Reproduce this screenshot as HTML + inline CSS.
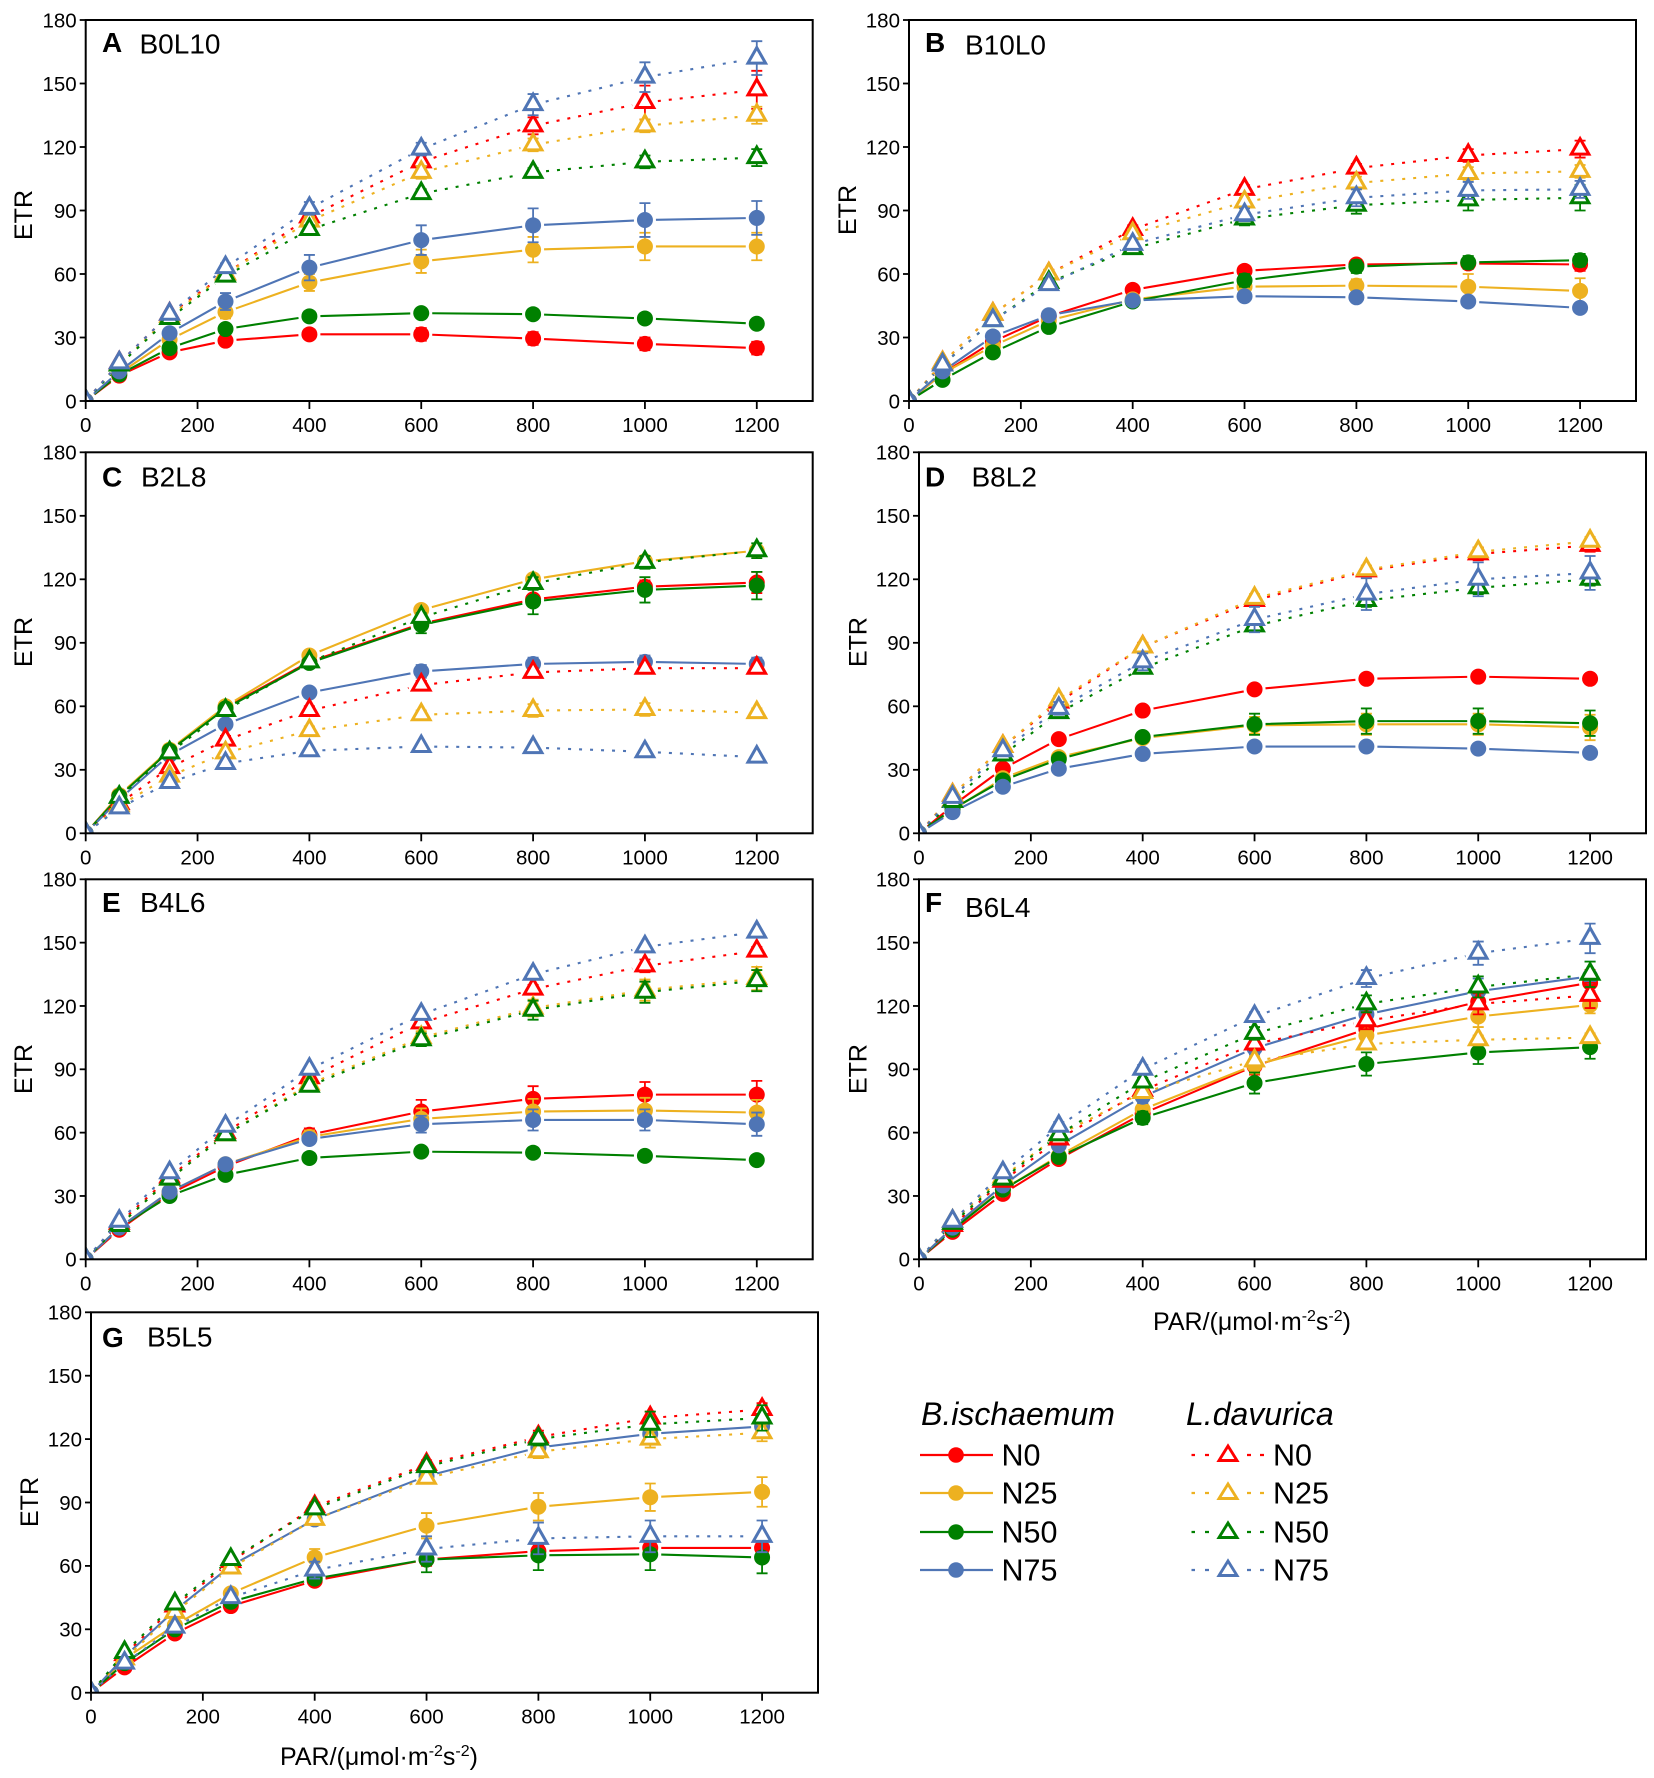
<!DOCTYPE html>
<html lang="en">
<head>
<meta charset="utf-8">
<title>ETR light response curves</title>
<style>
html,body{margin:0;padding:0;background:#fff;}
svg{display:block;}
text{font-family:"Liberation Sans",sans-serif;fill:#000;}
</style>
</head>
<body>
<svg id="chart" xmlns="http://www.w3.org/2000/svg" width="1654" height="1778" viewBox="0 0 1654 1778">
<rect x="0" y="0" width="1654" height="1778" fill="#fff"/>
<g id="panels"></g>
<g>
  <text x="921" y="1425" font-size="32" font-style="italic">B.ischaemum</text>
  <text x="1186" y="1425" font-size="32" font-style="italic">L.davurica</text>
  <g><line x1="920" x2="993" y1="1455" y2="1455" stroke="#FF0000" stroke-width="2.2"/><circle cx="956" cy="1455" r="7.8" fill="#FF0000"/><text x="1001.500" y="1465.500" font-size="30.500">N0</text></g>
  <g><line x1="920" x2="993" y1="1493" y2="1493" stroke="#EDB120" stroke-width="2.2"/><circle cx="956" cy="1493" r="7.8" fill="#EDB120"/><text x="1001.500" y="1503.500" font-size="30.500">N25</text></g>
  <g><line x1="920" x2="993" y1="1532" y2="1532" stroke="#008000" stroke-width="2.2"/><circle cx="956" cy="1532" r="7.8" fill="#008000"/><text x="1001.500" y="1542.500" font-size="30.500">N50</text></g>
  <g><line x1="920" x2="993" y1="1570" y2="1570" stroke="#4F75B5" stroke-width="2.2"/><circle cx="956" cy="1570" r="7.8" fill="#4F75B5"/><text x="1001.500" y="1580.500" font-size="30.500">N75</text></g>
  <g><path d="M1191.500 1455H1195M1205 1455H1209M1247 1455H1251M1260 1455H1264" stroke="#FF0000" stroke-width="2.2"/><path d="M1228 1446L1237 1460.500H1219Z" fill="#fff" stroke="#FF0000" stroke-width="2.9"/><text x="1273" y="1465.500" font-size="30.500">N0</text></g>
  <g><path d="M1191.500 1493H1195M1205 1493H1209M1247 1493H1251M1260 1493H1264" stroke="#EDB120" stroke-width="2.2"/><path d="M1228 1484L1237 1498.500H1219Z" fill="#fff" stroke="#EDB120" stroke-width="2.9"/><text x="1273" y="1503.500" font-size="30.500">N25</text></g>
  <g><path d="M1191.500 1532H1195M1205 1532H1209M1247 1532H1251M1260 1532H1264" stroke="#008000" stroke-width="2.2"/><path d="M1228 1523L1237 1537.500H1219Z" fill="#fff" stroke="#008000" stroke-width="2.9"/><text x="1273" y="1542.500" font-size="30.500">N50</text></g>
  <g><path d="M1191.500 1570H1195M1205 1570H1209M1247 1570H1251M1260 1570H1264" stroke="#4F75B5" stroke-width="2.2"/><path d="M1228 1561L1237 1575.500H1219Z" fill="#fff" stroke="#4F75B5" stroke-width="2.9"/><text x="1273" y="1580.500" font-size="30.500">N75</text></g>
</g>
</svg>
<script>
// x categories and axis ticks
const parLevels = [0, 60, 150, 250, 400, 600, 800, 1000, 1200];
const xTicks = [0, 200, 400, 600, 800, 1000, 1200];
const yTicks = [0, 30, 60, 90, 120, 150, 180];
const xMax = 1300;
const yMax = 180;
const treatments = ['N0', 'N25', 'N50', 'N75'];

// Rows: N0, N25, N50, N75. "solid" = B.ischaemum, "dotted" = L.davurica
const solidA = [
  [0,12,23,28.5,31.5,31.5,29.5,27,25],
  [0,13,29,42,56,66,71.5,73,73],
  [0,12.5,25,34,40,41.5,41,39,36.5],
  [0,14,32,47,63,76,83,85.5,86.5]];
const dottedA = [
  [0,18,41,60,87,113,130,141,147],
  [0,17,40,60,85,108,121,130,135],
  [0,17,39,59,81,98,108,113,115],
  [0,18,41,63,91,119,140,153,162]];
const solidErrA = [
  [0,1,1.5,1.5,2,3,3,3,3],
  [0,1,2,3,4,5.5,6,6.5,6.5],
  [0,1,1,2,2,2,2,2,2],
  [0,1,2,4,6,7,8,8,8]];
const dottedErrA = [
  [0,1,1,2,2,3,4,8,9],
  [0,1,1,2,2,3,3,3,4],
  [0,1,1,2,2,2,2,3,4],
  [0,1,1,2,3,3,5,7,8]];

const solidB = [
  [0,13,28,40,52.5,61.5,64.5,65,64.5],
  [0,13,26,38,48,54,54.5,54,52],
  [0,10,23,35,47,57,63.5,65.5,66.5],
  [0,14,30.5,40.5,47.5,49.5,49,47,44]];
const dottedB = [
  [0,18,41,60,81,100,110,116,119],
  [0,18,41,60,79,94,103,107.5,108.5],
  [0,17,38,56,72,86,92.5,95,96],
  [0,17,38,55,74,88,96,99.5,100]];
const solidErrB = [
  [0,1,1,1,2,2,2,2,3],
  [0,1,1,1,2,2,3,6,6],
  [0,1,1,2,2,3,3,3,3],
  [0,1,1,1,2,2,2,2,2]];
const dottedErrB = [
  [0,1,1,2,2,2,2,3,4],
  [0,1,1,2,2,2,3,3,3],
  [0,1,1,2,2,3,4,5,6],
  [0,1,1,2,2,3,4,4,4]];

const solidC = [
  [0,18,39,59.5,81,99,110.5,116.5,118.5],
  [0,18,39.5,60,84,105.5,120,128.5,133.5],
  [0,17.5,39,59,80.5,98.5,109.5,115,117],
  [0,16,37,51.5,66.5,76.5,80,81,80]];
const dottedC = [
  [0,14,31,44,58,70,76,78,78],
  [0,13,27,38,48.5,56,58,58.5,57],
  [0,17,38,58,81,102,118,128,133.5],
  [0,12,24,33,39,41,40.5,38.5,36]];
const solidErrC = [
  [0,1,1,1,2,2,2,3,5],
  [0,1,1,1,2,2,2,2,2],
  [0,1,1,1,2,4,6,6,6.5],
  [0,1,1,1,2,3,3,3,3]];
const dottedErrC = [
  [0,1,1,2,2,2,2,2,2],
  [0,1,1,1,2,2,3,3,2],
  [0,1,1,2,2,2,3,3,3.5],
  [0,1,1,1,1,1,1,1,1]];

const solidD = [
  [0,13,30.5,44.5,58,68,73,74,73],
  [0,11,26,36,45,51,51.5,51.5,50],
  [0,11.5,25,35,45.5,51.5,53,53,52],
  [0,10,22,30.5,37.5,41,41,40,38]];
const dottedD = [
  [0,18,41,62,88,110,124,132,136],
  [0,18,41,63,88,111,124.5,133,138],
  [0,15,37,57,78,98,110,116,120],
  [0,17,39,59,81,101,113,120,123]];
const solidErrD = [
  [0,1,1,1,1,1,1,1,1],
  [0,1,1,1,2,4,5,5,6],
  [0,1,1,1,2,5,6,6,6],
  [0,1,1,1,1,1,1,1,1]];
const dottedErrD = [
  [0,1,1,2,2,2,2,3,3],
  [0,1,1,2,2,2,2,2,2],
  [0,1,1,2,2,2,3,3,3],
  [0,1,1,3,4,6,7.5,8,8]];

const solidE = [
  [0,14,31,44,59,70,76,78,78],
  [0,15,32,45,58,66.5,70,70.5,69.5],
  [0,15,30,40,48,51,50.5,49,47],
  [0,15,32,45,57,64,66,66,64]];
const dottedE = [
  [0,17,39,60,86,112,128,139,146],
  [0,16,38,59,83,105,119,127.5,133],
  [0,16,38,59,82,104,118,126.5,132],
  [0,18,41,63,90,116,135,148,155]];
const solidErrE = [
  [0,1,1,1,3,5.5,6,6,6.5],
  [0,1,1,1,3,5,6,6,6],
  [0,1,1,1,1,1,1,1,1],
  [0,1,1,1,2,4,5,5,5.5]];
const dottedErrE = [
  [0,1,1,1,1,2,2,3,2],
  [0,1,1,1,2,3,4,5,5.5],
  [0,1,1,1,2,3,4.5,5,5],
  [0,1,1,1,1,1,1,1,1]];

const solidF = [
  [0,13,31,47.5,69,91.5,109,122,131],
  [0,15,33,49,71,92,106,115,120.5],
  [0,14,33,48.5,67,83.5,92.5,98,100.5],
  [0,15,35,54,77,100,116,127,134]];
const dottedF = [
  [0,16,37,57,80,102,113,121,125],
  [0,18,39,59,79,94,102,104,105],
  [0,17,38,59,84,107,121,129,135],
  [0,18,41,63,90,115,133,145,152]];
const solidErrF = [
  [0,1,1,2,3,4,5,6,6],
  [0,1,1,1,3,4,5,5,4],
  [0,1,1,1,3,5,5.5,5.5,5.5],
  [0,1,1,1,3,3,5,6,7]];
const dottedErrF = [
  [0,1,1,2,3,3,4,5,6],
  [0,1,1,2,2,2,2,2,2],
  [0,1,1,2,2,3,4,5,6],
  [0,1,1,2,2,2,4,5.5,7]];

const solidG = [
  [0,12,28,41,53,63,67,68.5,68.5],
  [0,16,32,47,64,79,88,92.5,95],
  [0,14,30,43,54,63,65,65.5,64],
  [0,17,39,60,82,102.5,116,122.5,126]];
const dottedG = [
  [0,18,41,62,88,108,121,130,134],
  [0,16,38,59,82,101.5,114,120,123],
  [0,19,42,63,87,107,120,127,130],
  [0,14,31,45,58,68,73,74,74]];
const solidErrG = [
  [0,1,1,1,2,3,3,3,3],
  [0,1,1,2,4,6,6.5,6.5,7],
  [0,1,1,1,2,6,7,7.5,7.5],
  [0,1,1,1,1,2,2,3,3]];
const dottedErrG = [
  [0,1,1,1,2,2,3,3,3],
  [0,1,1,1,2,2,3,4,4],
  [0,1,1,1,2,2,3,6,6],
  [0,1,1,2,4,6,7.5,7.5,7.5]];

const colors = ['#FF0000', '#EDB120', '#008000', '#4F75B5'];
const PLOT_W = 727;
const NS = 'http://www.w3.org/2000/svg';

function mk(tag, attrs, parent) {
  const e = document.createElementNS(NS, tag);
  for (const k in attrs) e.setAttribute(k, attrs[k]);
  if (parent) parent.appendChild(e);
  return e;
}

function shortenedPath(pts, gap) {
  let d = '';
  for (let i = 0; i < pts.length - 1; i++) {
    const a = pts[i], b = pts[i + 1];
    const dx = b[0] - a[0], dy = b[1] - a[1];
    const len = Math.hypot(dx, dy);
    if (len <= gap * 2) continue;
    const ux = dx / len, uy = dy / len;
    d += 'M' + (a[0] + ux * gap).toFixed(2) + ' ' + (a[1] + uy * gap).toFixed(2) +
         'L' + (b[0] - ux * gap).toFixed(2) + ' ' + (b[1] - uy * gap).toFixed(2);
  }
  return d;
}

function drawSeries(root, clipId, kind, idx, values, errs, sx, sy, id) {
  const color = colors[idx];
  const g = mk('g', { 'clip-path': 'url(#' + clipId + ')' }, root);
  
  
  const pts = parLevels.map((p, i) => [sx(p), sy(values[i])]);
  const line = mk('path', {
    d: shortenedPath(pts, kind === 'solid' ? 11 : 13),
    fill: 'none',
    stroke: color,
    'stroke-width': 2.1,
    'stroke-dasharray': kind === 'solid' ? 'none' : '3 8'
  }, g);
  
  
  pts.forEach((pt, i) => {
    const e = errs[i];
    if (e > 0) {
      const hi = sy(values[i] + e), lo = sy(values[i] - e);
      const bar = mk('path', {
        d: 'M' + pt[0] + ' ' + hi + 'V' + lo + 'M' + (pt[0] - 5.5) + ' ' + hi + 'h11M' + (pt[0] - 5.5) + ' ' + lo + 'h11',
        fill: 'none',
        stroke: color,
        'stroke-width': 1.8
      }, g);
      
      
    }
    let m;
    if (kind === 'solid') {
      m = mk('circle', { cx: pt[0], cy: pt[1], r: 8, fill: color }, g);
    } else {
      m = mk('path', {
        d: 'M' + pt[0] + ' ' + (pt[1] - 10.5) + 'L' + (pt[0] + 8.8) + ' ' + (pt[1] + 5) + 'H' + (pt[0] - 8.8) + 'Z',
        fill: '#fff',
        stroke: color,
        'stroke-width': 3
      }, g);
    }
    
    
  });
}

function drawPanel(cfg) {
  const root = document.getElementById('panels');
  const id = 'panel-' + cfg.letter.toLowerCase();
  const g = mk('g', {}, root);
  
  
  const sx = v => cfg.left + v * PLOT_W / xMax;
  const sy = v => cfg.bottom - v * (cfg.bottom - cfg.top) / yMax;

  const clipId = 'clip-' + cfg.letter;
  const cp = mk('clipPath', { id: clipId }, g);
  mk('rect', { x: cfg.left, y: cfg.top, width: PLOT_W, height: cfg.bottom - cfg.top }, cp);

  for (let i = 0; i < 4; i++) drawSeries(g, clipId, 'solid', i, cfg.solid[i], cfg.solidErr[i], sx, sy, id);
  for (let i = 0; i < 4; i++) drawSeries(g, clipId, 'dotted', i, cfg.dotted[i], cfg.dottedErr[i], sx, sy, id);

  const frame = mk('rect', { x: cfg.left, y: cfg.top, width: PLOT_W, height: cfg.bottom - cfg.top, fill: 'none', stroke: '#000', 'stroke-width': 2 }, g);
  
  

  xTicks.forEach(t => {
    const tick = mk('line', { x1: sx(t), x2: sx(t), y1: cfg.bottom, y2: cfg.bottom + 8, stroke: '#000', 'stroke-width': 1.8 }, g);
    
    
    const lab = mk('text', { x: sx(t), y: cfg.bottom + 31, 'font-size': 20.5, 'text-anchor': 'middle' }, g);
    lab.textContent = String(t);
    
    
  });
  yTicks.forEach(t => {
    const tick = mk('line', { x1: cfg.left - 6, x2: cfg.left, y1: sy(t), y2: sy(t), stroke: '#000', 'stroke-width': 1.8 }, g);
    
    
    const lab = mk('text', { x: cfg.left - 9, y: sy(t) + 7.3, 'font-size': 20.5, 'text-anchor': 'end' }, g);
    lab.textContent = String(t);
    
    
  });

  const yTitle = mk('text', {
    x: cfg.yTitleX, y: cfg.yTitleY, 'font-size': 25, 'text-anchor': 'middle',
    transform: 'rotate(-90 ' + cfg.yTitleX + ' ' + cfg.yTitleY + ')'
  }, g);
  yTitle.textContent = 'ETR';
  
  

  const letter = mk('text', { x: cfg.letterX, y: cfg.letterY, 'font-size': 28, 'font-weight': 'bold' }, g);
  letter.textContent = cfg.letter;
  
  

  const title = mk('text', { x: cfg.titleX, y: cfg.titleY, 'font-size': 28 }, g);
  title.textContent = cfg.title;
  
  

  if (cfg.xTitleX) {
    const xt = mk('text', { x: cfg.xTitleX, y: cfg.xTitleY, 'font-size': 25, 'text-anchor': 'middle' }, g);
    
    
    const parts = [['PAR/(\u03BCmol\u00B7m', 0, 25], ['-2', -9, 16], ['s', 9, 25], ['-2', -9, 16], [')', 9, 25]];
    parts.forEach(p => {
      const s = mk('tspan', { dy: p[1], 'font-size': p[2] }, xt);
      s.textContent = p[0];
    });
  }
}

drawPanel({ letter: 'A', title: 'B0L10', left: 85.7, top: 20, bottom: 401, solid: solidA, dotted: dottedA, solidErr: solidErrA, dottedErr: dottedErrA, yTitleX: 32, yTitleY: 215, letterX: 102, letterY: 52, titleX: 139.5, titleY: 53.5 });
drawPanel({ letter: 'B', title: 'B10L0', left: 909, top: 20, bottom: 401, solid: solidB, dotted: dottedB, solidErr: solidErrB, dottedErr: dottedErrB, yTitleX: 856, yTitleY: 210, letterX: 925, letterY: 52, titleX: 965, titleY: 54.5 });
drawPanel({ letter: 'C', title: 'B2L8', left: 85.7, top: 452.3, bottom: 833.3, solid: solidC, dotted: dottedC, solidErr: solidErrC, dottedErr: dottedErrC, yTitleX: 32, yTitleY: 642, letterX: 102, letterY: 486.5, titleX: 141, titleY: 486.5 });
drawPanel({ letter: 'D', title: 'B8L2', left: 919, top: 452.3, bottom: 833.3, solid: solidD, dotted: dottedD, solidErr: solidErrD, dottedErr: dottedErrD, yTitleX: 866.7, yTitleY: 642, letterX: 925, letterY: 486.5, titleX: 971.5, titleY: 486.5 });
drawPanel({ letter: 'E', title: 'B4L6', left: 85.7, top: 879.3, bottom: 1259.3, solid: solidE, dotted: dottedE, solidErr: solidErrE, dottedErr: dottedErrE, yTitleX: 32, yTitleY: 1069, letterX: 102, letterY: 912, titleX: 140, titleY: 912 });
drawPanel({ letter: 'F', title: 'B6L4', left: 919, top: 879.3, bottom: 1259.3, solid: solidF, dotted: dottedF, solidErr: solidErrF, dottedErr: dottedErrF, yTitleX: 866.7, yTitleY: 1069, letterX: 925, letterY: 912, titleX: 965, titleY: 917, xTitleX: 1252, xTitleY: 1330 });
drawPanel({ letter: 'G', title: 'B5L5', left: 91, top: 1312.3, bottom: 1692.7, solid: solidG, dotted: dottedG, solidErr: solidErrG, dottedErr: dottedErrG, yTitleX: 38, yTitleY: 1502, letterX: 102, letterY: 1347, titleX: 147, titleY: 1346.5, xTitleX: 379, xTitleY: 1765 });
</script>
</body>
</html>
